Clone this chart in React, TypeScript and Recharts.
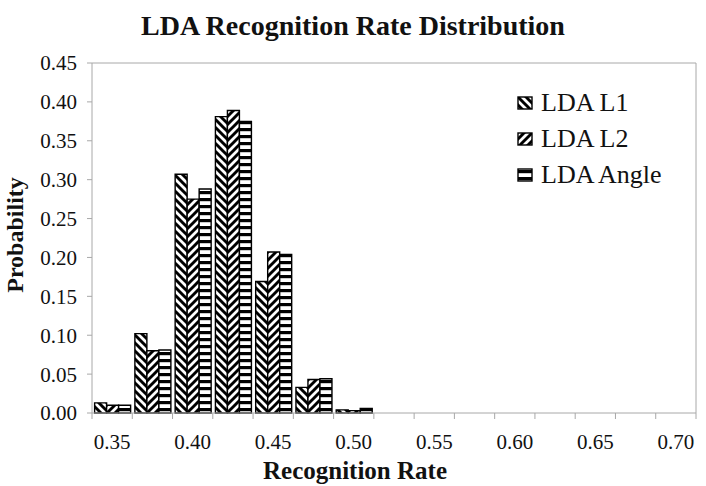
import React from 'react';
import { BarChart, Bar, XAxis, YAxis, CartesianGrid } from 'recharts';

// recognition-rate bins (0.35 .. 0.70, step 0.025)
const rates = [
    '0.35', '0.375', '0.40', '0.425', '0.45', '0.475', '0.50', '0.525',
    '0.55', '0.575', '0.60', '0.625', '0.65', '0.675', '0.70'
];
const ldaL1 = [0.013, 0.102, 0.307, 0.381, 0.169, 0.033, 0.004, 0, 0, 0, 0, 0, 0, 0, 0];
const ldaL2 = [0.010, 0.080, 0.275, 0.389, 0.207, 0.043, 0.003, 0, 0, 0, 0, 0, 0, 0, 0];
const ldaAngle = [0.010, 0.081, 0.288, 0.375, 0.204, 0.044, 0.006, 0, 0, 0, 0, 0, 0, 0, 0];
const yTicks = [0, 0.05, 0.1, 0.15, 0.2, 0.25, 0.3, 0.35, 0.4, 0.45];

const seriesList = [
    { key: 'l1', name: 'LDA L1', pattern: 'hatch-l1' },
    { key: 'l2', name: 'LDA L2', pattern: 'hatch-l2' },
    { key: 'angle', name: 'LDA Angle', pattern: 'hatch-angle' },
];

const data = rates.map((rate, i) => ({
    rate,
    l1: ldaL1[i],
    l2: ldaL2[i],
    angle: ldaAngle[i],
}));

const FONT = '"Liberation Serif", "Times New Roman", serif';
const TEXT = '#111';
const FRAME = '#a8a8a8';

const CHART_W = 706;
const CHART_H = 486;
const X_AXIS_H = 30;
const MARGIN = { top: 63, right: 10, bottom: 73 - X_AXIS_H, left: 0 };
const Y_AXIS_W = 92;
const PLOT_W = CHART_W - MARGIN.left - MARGIN.right - Y_AXIS_W;
const BAND = PLOT_W / rates.length;

const Patterns = ({ prefix = '' }: { prefix?: string }) => (
    <defs>
        <pattern id={`${prefix}hatch-l1`} width={8} height={8} patternUnits="userSpaceOnUse">
            <rect width={8} height={8} fill="#fff" />
            <path d="M-2,-2 L10,10 M-2,6 L2,10 M6,-2 L10,2" stroke="#000" strokeWidth={2.9} />
        </pattern>
        <pattern id={`${prefix}hatch-l2`} width={8} height={8} patternUnits="userSpaceOnUse">
            <rect width={8} height={8} fill="#fff" />
            <path d="M-2,10 L10,-2 M-2,2 L2,-2 M6,10 L10,6" stroke="#000" strokeWidth={2.9} />
        </pattern>
        <pattern id={`${prefix}hatch-angle`} width={7} height={7} patternUnits="userSpaceOnUse">
            <rect width={7} height={7} fill="#fff" />
            <rect y={2} width={7} height={3.2} fill="#000" />
        </pattern>
    </defs>
);

// x ticks: boundary marks between bins, label on every other bin
const RateTick = (props: any) => {
    const { x, y, payload, index } = props;
    const isLast = index === rates.length - 1;
    return (
        <g>
            <line x1={x - BAND / 2} y1={y} x2={x - BAND / 2} y2={y + 6} stroke={FRAME} />
            {isLast && <line x1={x + BAND / 2} y1={y} x2={x + BAND / 2} y2={y + 6} stroke={FRAME} />}
            {index % 2 === 0 && (
                <text x={x} y={y + 36} textAnchor="middle" fontSize={21} fill={TEXT} style={{ fontFamily: FONT }}>
                    {payload.value}
                </text>
            )}
        </g>
    );
};

const ProbabilityLabel = () => {
    const cx = 23;
    const cy = 235;
    return (
        <text
            x={cx}
            y={cy}
            transform={`rotate(-90, ${cx}, ${cy})`}
            textAnchor="middle"
            fontSize={24}
            fontWeight="bold"
            fill={TEXT}
            style={{ fontFamily: FONT }}
        >
            Probability
        </text>
    );
};

const RateLabel = () => (
    <text
        x={CHART_W / 2 + 2}
        y={CHART_H - 7}
        textAnchor="middle"
        fontSize={25}
        fontWeight="bold"
        fill={TEXT}
        style={{ fontFamily: FONT }}
    >
        Recognition Rate
    </text>
);

export default function App() {
    return (
        <div style={{ position: 'absolute', left: 0, top: 0, width: CHART_W, height: CHART_H, background: '#fff' }}>
            <div
                style={{
                    position: 'absolute',
                    left: 0,
                    width: CHART_W,
                    top: 12,
                    textAlign: 'center',
                    fontFamily: FONT,
                    fontWeight: 'bold',
                    fontSize: 28,
                    lineHeight: '28px',
                    color: TEXT,
                }}
            >
                LDA Recognition Rate Distribution
            </div>
            <BarChart
                width={CHART_W}
                height={CHART_H}
                data={data}
                margin={MARGIN}
                barCategoryGap="6.5%"
                barGap={0}
            >
                <Patterns />
                <CartesianGrid
                    stroke={FRAME}
                    horizontalCoordinatesGenerator={({ offset }: any) => [offset.top]}
                    verticalCoordinatesGenerator={({ offset }: any) => [offset.left + offset.width]}
                />
                <XAxis
                    dataKey="rate"
                    height={X_AXIS_H}
                    interval={0}
                    tickLine={false}
                    tickSize={0}
                    tickMargin={0}
                    axisLine={{ stroke: FRAME }}
                    tick={<RateTick />}
                    label={<RateLabel />}
                />
                <YAxis
                    width={Y_AXIS_W}
                    domain={[0, 0.45]}
                    ticks={yTicks}
                    tickFormatter={(v: number) => v.toFixed(2)}
                    tickSize={5}
                    tickMargin={10}
                    axisLine={{ stroke: FRAME }}
                    tickLine={{ stroke: FRAME }}
                    tick={{ fontSize: 21, fill: TEXT, style: { fontFamily: FONT } }}
                    label={<ProbabilityLabel />}
                />
                {seriesList.map((s) => (
                    <Bar
                        key={s.key}
                        dataKey={s.key}
                        name={s.name}
                        fill={`url(#${s.pattern})`}
                        stroke="#000"
                        strokeWidth={1.4}
                        isAnimationActive={false}
                    />
                ))}
            </BarChart>
            <div style={{ position: 'absolute', left: 517, top: 85, fontFamily: FONT, fontSize: 26, color: TEXT }}>
                <svg width={0} height={0} style={{ position: 'absolute' }}>
                    <Patterns prefix="lg-" />
                </svg>
                {seriesList.map((s) => (
                    <div key={s.key} style={{ display: 'flex', alignItems: 'center', height: 36, lineHeight: '36px' }}>
                        <svg width={16} height={14} style={{ marginRight: 8 }}>
                            <rect x={1} y={1} width={14} height={12} fill={`url(#lg-${s.pattern})`} stroke="#000" strokeWidth={1.4} />
                        </svg>
                        {s.name}
                    </div>
                ))}
            </div>
        </div>
    );
}
